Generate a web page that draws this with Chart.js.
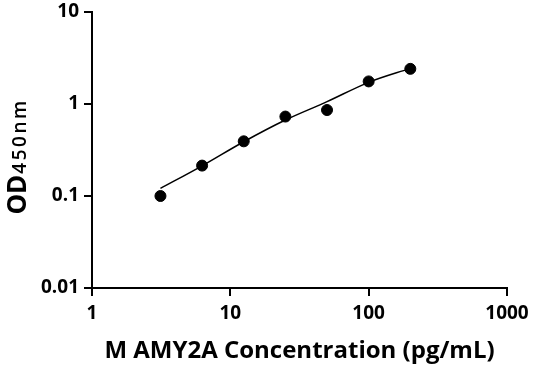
<!DOCTYPE html>
<html>
<head>
<meta charset="utf-8">
<script src="https://cdn.jsdelivr.net/npm/chart.js@4.4.1/dist/chart.umd.min.js"></script>
<style>
  html, body { margin: 0; padding: 0; background: #fff; }
  #wrap { width: 536px; height: 371px; }
</style>
</head>
<body>
<div id="wrap"><canvas id="chart" width="536" height="371"></canvas></div>
<script>
var concentration = [3.125, 6.25, 12.5, 25, 50, 100, 200];
var odValues = [0.1, 0.214, 0.393, 0.73, 0.86, 1.76, 2.41];
var fitOd = [0.121, 0.213, 0.389, 0.67, 1.06, 1.72, 2.44];
var xTicks = [1, 10, 100, 1000];
var yTicks = [0.01, 0.1, 1, 10];

var fontFamily = '"Open Sans", "DejaVu Sans", sans-serif';

function toPoints(xs, ys) {
  return xs.map(function (x, i) { return { x: x, y: ys[i] }; });
}

// y title with subscript: OD + 450nm
var yTitlePlugin = {
  id: 'yTitle',
  afterDraw: function (chart) {
    var c = chart.ctx;
    var area = chart.chartArea;
    c.save();
    c.fillStyle = '#000';
    c.textBaseline = 'alphabetic';
    c.font = 'bold 26px ' + fontFamily;
    var w1 = c.measureText('OD').width;
    c.font = '600 19px ' + fontFamily;
    c.letterSpacing = '2.5px';
    var w2 = c.measureText('450nm').width;
    var total = w1 + w2;
    c.translate(26, (area.top + area.bottom) / 2 + 7);
    c.rotate(-Math.PI / 2);
    c.fillText('450nm', -total / 2 + w1 + 1, 0);
    c.letterSpacing = '0px';
    c.font = 'bold 26px ' + fontFamily;
    c.fillText('OD', -total / 2, 0);
    c.restore();
  }
};

var ctx = document.getElementById('chart').getContext('2d');
var myChart = new Chart(ctx, {
  type: 'scatter',
  data: {
    datasets: [{
      label: 'fit',
      type: 'line',
      data: toPoints(concentration, fitOd),
      borderColor: '#000',
      borderWidth: 1.5,
      pointRadius: 0,
      fill: false,
      cubicInterpolationMode: 'monotone'
    }, {
      label: 'OD',
      data: toPoints(concentration, odValues),
      backgroundColor: '#000',
      borderColor: '#000',
      pointRadius: 5.5
    }]
  },
  options: {
    responsive: false,
    animation: false,
    layout: { padding: { top: 12, right: 29, left: 0, bottom: 0 } },
    plugins: {
      legend: { display: false },
      tooltip: { enabled: false }
    },
    scales: {
      x: {
        type: 'logarithmic',
        min: 1,
        max: 1000,
        afterBuildTicks: function (scale) {
          scale.ticks = xTicks.map(function (v) { return { value: v }; });
        },
        afterFit: function (scale) {
          scale.height = 83;
          scale.paddingLeft = 0;
          scale.paddingRight = 0;
        },
        ticks: {
          color: '#000',
          padding: 6,
          maxRotation: 0,
          font: { family: fontFamily, size: 19, weight: 'bold' },
          callback: function (v) { return String(v); }
        },
        grid: { drawOnChartArea: false, drawTicks: true, tickLength: 8, tickColor: '#000', lineWidth: 2 },
        border: { color: '#000', width: 2 },
        title: {
          display: true,
          text: 'M AMY2A Concentration (pg/mL)',
          color: '#000',
          padding: { top: 5, bottom: 5 },
          font: { family: fontFamily, size: 24, weight: 'bold' }
        }
      },
      y: {
        type: 'logarithmic',
        min: 0.01,
        max: 10,
        afterBuildTicks: function (scale) {
          scale.ticks = yTicks.map(function (v) { return { value: v }; });
        },
        afterFit: function (scale) {
          scale.width = 92;
          scale.paddingTop = 0;
          scale.paddingBottom = 0;
        },
        ticks: {
          color: '#000',
          padding: 5,
          font: { family: fontFamily, size: 19, weight: 'bold' },
          callback: function (v) { return String(v); }
        },
        grid: { drawOnChartArea: false, drawTicks: true, tickLength: 8, tickColor: '#000', lineWidth: 2 },
        border: { color: '#000', width: 2 }
      }
    }
  },
  plugins: [yTitlePlugin]
});
</script>
</body>
</html>
